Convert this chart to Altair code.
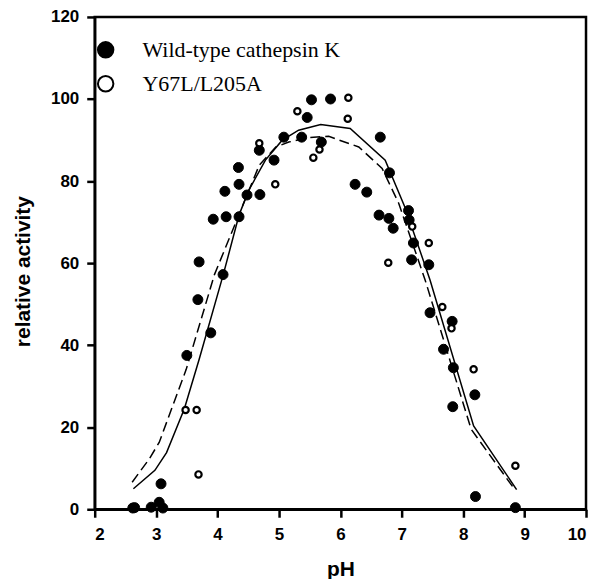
import altair as alt
import pandas as pd

WT = "Wild-type cathepsin K"
MUT = "Y67L/L205A"

wt_ph = [2.62, 2.65, 2.92, 3.05, 3.11, 3.08, 3.50, 3.68, 3.70, 3.89, 4.09, 3.93, 4.14, 4.35,
         4.12, 4.34, 4.35, 4.48, 4.69, 4.68, 4.92, 5.08, 5.37, 5.46, 5.53, 5.84, 5.69, 6.65,
         6.80, 6.24, 6.43, 6.63, 6.79, 6.86, 7.11, 7.12, 7.19, 7.16, 7.44, 7.46, 7.82, 7.68,
         7.84, 8.19, 7.83, 8.20, 8.85]
wt_act = [0.3, 0.4, 0.5, 1.7, 0.3, 6.2, 37.5, 51.1, 60.3, 43.0, 57.2, 70.7, 71.3, 71.3,
          77.5, 83.3, 79.2, 76.6, 76.7, 87.5, 85.1, 90.7, 90.7, 95.5, 99.8, 100.0, 89.5, 90.7,
          82.0, 79.2, 77.3, 71.7, 70.9, 68.5, 72.8, 70.5, 64.9, 60.8, 59.6, 47.9, 45.8, 39.0,
          34.5, 27.9, 25.0, 3.1, 0.4]

mut_ph = [3.69, 3.48, 3.66, 4.68, 4.94, 5.30, 6.13, 6.12, 5.66, 5.56, 7.17, 7.44, 6.78,
          7.66, 7.81, 8.17, 8.85]
mut_act = [8.5, 24.2, 24.2, 89.2, 79.2, 97.0, 100.3, 95.2, 87.7, 85.7, 68.9, 64.9, 60.1,
           49.3, 44.1, 34.1, 10.6]

solid_ph = [2.63, 2.98, 3.17, 3.46, 3.70, 4.09, 4.35, 4.51, 4.78, 5.05, 5.32, 5.68, 6.16,
            6.73, 7.05, 7.46, 8.17, 8.87]
solid_act = [5.0, 9.5, 13.8, 24.5, 36.5, 57.0, 71.7, 77.8, 85.1, 89.9, 92.4, 93.8, 92.8,
             85.1, 73.7, 55.9, 20.3, 4.8]

dash_ph = [2.61, 2.89, 3.05, 3.49, 3.95, 4.68, 4.95, 5.16, 5.49, 5.81, 6.30, 6.68, 6.95,
           7.38, 8.13, 8.83]
dash_act = [6.6, 12.3, 16.3, 34.1, 57.2, 83.9, 88.3, 89.5, 90.6, 90.9, 88.3, 83.1, 74.6,
            55.9, 19.5, 5.0]

x_ticks = [2, 3, 4, 5, 6, 7, 8, 9, 10]
y_ticks = [0, 20, 40, 60, 80, 100, 120]

wt_df = pd.DataFrame({"pH": wt_ph, "act": wt_act, "series": WT})
mut_df = pd.DataFrame({"pH": mut_ph, "act": mut_act, "series": MUT})
solid_df = pd.DataFrame({"pH": solid_ph, "act": solid_act})
dash_df = pd.DataFrame({"pH": dash_ph, "act": dash_act})

x_enc = alt.X("pH:Q", scale=alt.Scale(domain=[2, 10], nice=False, zero=False),
              axis=alt.Axis(values=x_ticks, title="pH", titleY=66, titleBaseline="alphabetic",
                            labelPadding=9, format="d"))
y_enc = alt.Y("act:Q", scale=alt.Scale(domain=[0, 120], nice=False),
              axis=alt.Axis(values=y_ticks, title="relative activity", titleX=-65, titleY=255,
                            titleBaseline="alphabetic", titleAlign="center", labelPadding=8))

fill_enc = alt.Fill("series:N",
                    scale=alt.Scale(domain=[WT, MUT], range=["black", "white"]),
                    legend=alt.Legend(title=None, orient="none", legendX=0, legendY=22,
                                      labelFont="Liberation Serif", labelFontSize=22,
                                      labelColor="black", labelFontWeight="normal",
                                      symbolType="circle", symbolSize=240,
                                      symbolStrokeColor="black", symbolStrokeWidth=2,
                                      rowPadding=10, labelOffset=26, padding=0,
                                      labelLimit=400))

solid = alt.Chart(solid_df).mark_line(color="black", strokeWidth=1.5).encode(x=x_enc, y=y_enc)
dashed = alt.Chart(dash_df).mark_line(color="black", strokeWidth=1.5, strokeDash=[10, 5]).encode(
    x=x_enc, y=y_enc)
wt_pts = alt.Chart(wt_df).mark_point(filled=True, stroke="black", strokeWidth=1, size=100,
                                     opacity=1, shape="circle").encode(
    x=x_enc, y=y_enc, fill=fill_enc)
mut_pts = alt.Chart(mut_df).mark_point(filled=True, stroke="black", strokeWidth=2.2, size=40,
                                       opacity=1, shape="circle").encode(
    x=x_enc, y=y_enc, fill=fill_enc)

chart = alt.layer(solid, dashed, wt_pts, mut_pts).properties(
    width=493, height=494,
    autosize=alt.AutoSizeParams(type="none"),
    padding={"left": 87, "top": 8, "right": 4, "bottom": 71},
).configure_view(
    stroke="black", strokeWidth=2.5
).configure_axis(
    grid=False, domainColor="black", domainWidth=2.5, tickColor="black", tickWidth=2.5,
    tickSize=8, labelFont="Liberation Sans", labelFontWeight="bold", labelFontSize=17,
    labelColor="black", titleFont="Liberation Sans", titleFontWeight="bold",
    titleFontSize=21, titleColor="black"
)

chart.save("out.html", embed_options={"renderer": "svg", "actions": False})
